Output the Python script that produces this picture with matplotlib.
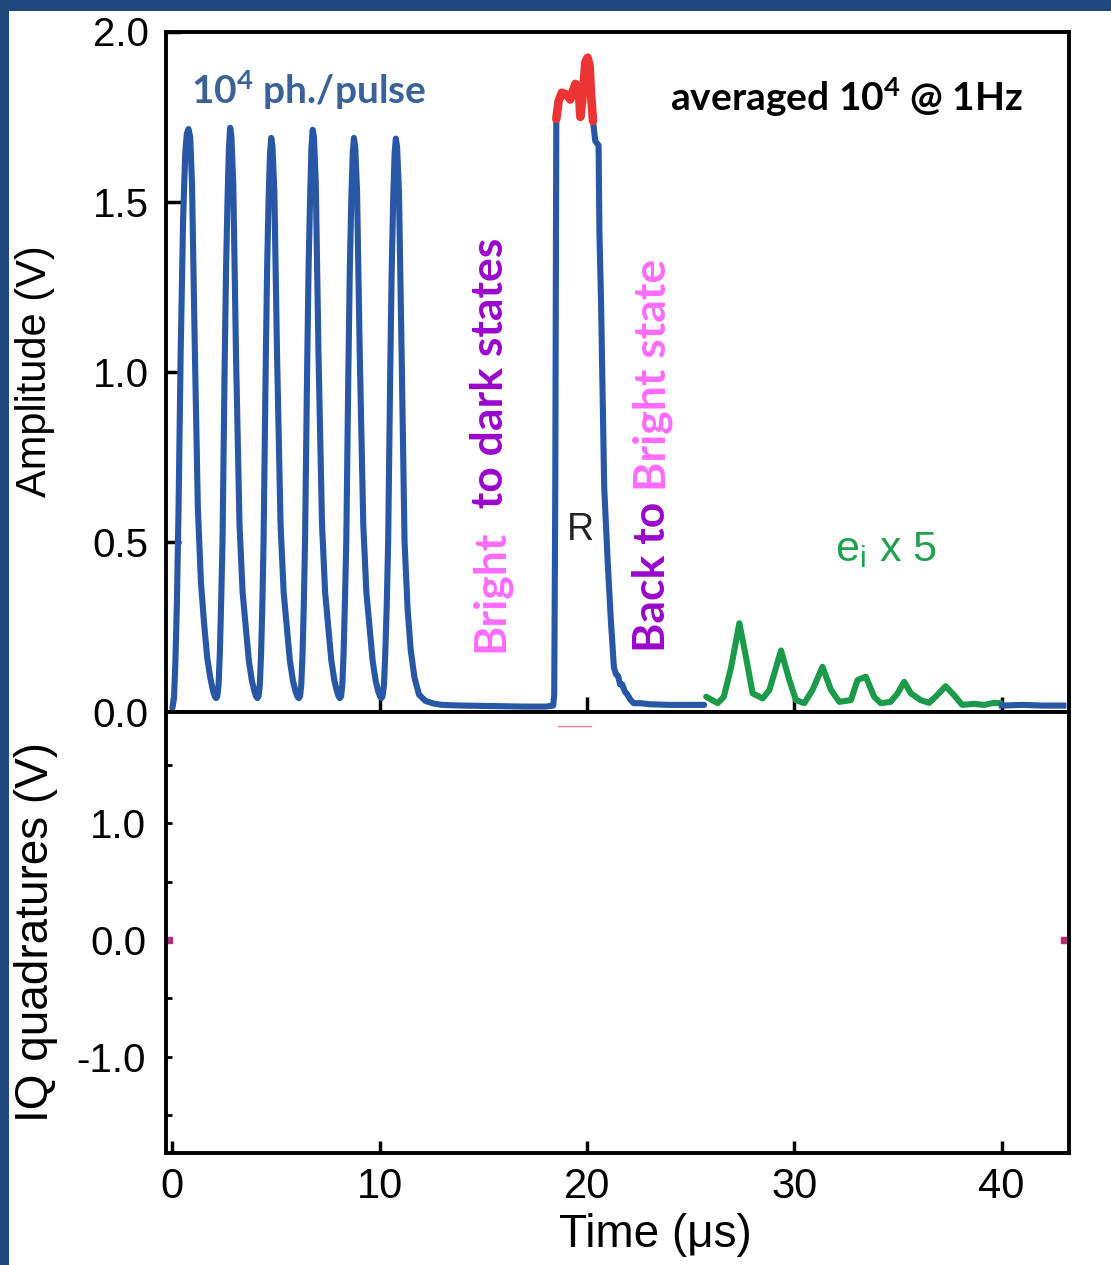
import matplotlib
matplotlib.use("Agg")
import matplotlib.pyplot as plt
from matplotlib.patches import Rectangle

plt.rcParams['font.family'] = ['Liberation Sans', 'DejaVu Sans']
plt.rcParams['mathtext.default'] = 'regular'

# ---------------- data ----------------
# blue trace: six probe pulses, dark interval, read pulse R and its fall
blue_t = [0.00, 0.08, 0.15, 0.22, 0.30, 0.40, 0.52, 0.62, 0.70, 0.78, 0.86, 0.95, 1.08, 1.23, 1.38, 1.53, 1.68, 1.83, 1.96, 2.05, 2.11,
          2.17, 2.23, 2.29, 2.35, 2.42, 2.52, 2.59, 2.66, 2.73, 2.79, 2.85, 2.94, 3.07, 3.24, 3.39, 3.54, 3.69, 3.84, 3.96, 4.04, 4.10,
          4.16, 4.22, 4.28, 4.34, 4.40, 4.50, 4.57, 4.64, 4.71, 4.77, 4.83, 4.92, 5.05, 5.22, 5.37, 5.52, 5.67, 5.82, 5.94, 6.03, 6.10,
          6.16, 6.22, 6.28, 6.34, 6.40, 6.50, 6.57, 6.64, 6.71, 6.77, 6.83, 6.92, 7.05, 7.22, 7.37, 7.52, 7.67, 7.82, 7.94, 8.02, 8.08,
          8.14, 8.20, 8.26, 8.32, 8.39, 8.49, 8.56, 8.63, 8.70, 8.76, 8.82, 8.91, 9.04, 9.21, 9.36, 9.51, 9.66, 9.81, 9.93, 10.02, 10.08,
          10.14, 10.21, 10.27, 10.34, 10.41, 10.51, 10.58, 10.65, 10.72, 10.78, 10.84, 10.93, 11.06, 11.20, 11.35, 11.50, 11.68, 11.90, 12.20, 12.60, 13.00,
          14.0, 15.0, 16.0, 17.0, 18.0, 18.37, 18.42, 18.47, 18.50, 18.52,
          18.63, 18.79, 19.03, 19.19, 19.44, 19.60, 19.68, 19.81, 19.92, 20.03, 20.13, 20.19, 20.29,
          20.40, 20.56, 20.60, 20.68, 20.83, 21.00, 21.15, 21.30, 21.40, 21.50, 21.60, 21.70, 21.82, 21.95, 22.10, 22.25,
          22.6, 23.0, 24.0, 25.0, 25.65]
blue_v = [0.01, 0.04, 0.15, 0.32, 0.60, 1.05, 1.45, 1.64, 1.70, 1.713, 1.69, 1.55, 1.08, 0.60, 0.38, 0.26, 0.16, 0.10, 0.062, 0.045, 0.04,
          0.045, 0.08, 0.17, 0.31, 0.50, 1.00, 1.30, 1.50, 1.66, 1.717, 1.69, 1.55, 1.05, 0.55, 0.35, 0.25, 0.15, 0.09, 0.06, 0.045, 0.04,
          0.045, 0.08, 0.17, 0.31, 0.50, 1.00, 1.30, 1.50, 1.64, 1.687, 1.66, 1.53, 1.05, 0.55, 0.35, 0.25, 0.15, 0.09, 0.06, 0.045, 0.04,
          0.045, 0.08, 0.17, 0.31, 0.50, 1.00, 1.30, 1.50, 1.66, 1.711, 1.69, 1.55, 1.05, 0.55, 0.35, 0.25, 0.15, 0.09, 0.06, 0.045, 0.04,
          0.045, 0.08, 0.17, 0.31, 0.50, 1.00, 1.30, 1.50, 1.64, 1.687, 1.66, 1.53, 1.05, 0.55, 0.35, 0.25, 0.15, 0.09, 0.06, 0.045, 0.04,
          0.045, 0.08, 0.17, 0.31, 0.50, 1.00, 1.30, 1.50, 1.64, 1.685, 1.66, 1.53, 1.05, 0.50, 0.30, 0.18, 0.10, 0.05, 0.032, 0.024, 0.02,
          0.018, 0.017, 0.016, 0.015, 0.015, 0.018, 0.05, 0.65, 1.35, 1.74,
          1.795, 1.82, 1.814, 1.80, 1.846, 1.833, 1.749, 1.82, 1.91, 1.923, 1.898, 1.82, 1.737,
          1.678, 1.665, 1.41, 1.20, 0.66, 0.44, 0.27, 0.13, 0.11, 0.105, 0.08, 0.08, 0.06, 0.05, 0.035, 0.025,
          0.025, 0.022, 0.02, 0.02, 0.02]

# red: top of the read pulse
red_t = [18.52, 18.63, 18.79, 19.03, 19.19, 19.44, 19.60, 19.68, 19.81, 19.92, 20.03, 20.13, 20.19, 20.29]
red_v = [1.743, 1.795, 1.82, 1.814, 1.80, 1.846, 1.833, 1.749, 1.82, 1.91, 1.923, 1.898, 1.82, 1.737]

# green: echoes e_i (x5)
green_t = [25.75, 26.30, 26.60, 26.95, 27.35, 27.67, 27.99, 28.48, 28.80, 29.36, 29.76, 30.08, 30.48, 30.88, 31.36,
           31.77, 32.17, 32.73, 33.05, 33.45, 33.85, 34.17, 34.65, 34.98, 35.30, 35.62, 36.10, 36.50, 36.90, 37.30,
           37.70, 38.10, 38.67, 39.15, 39.63, 39.95]
green_v = [0.044, 0.025, 0.044, 0.13, 0.26, 0.16, 0.054, 0.039, 0.064, 0.18, 0.093, 0.034, 0.025, 0.064, 0.132,
           0.064, 0.029, 0.034, 0.093, 0.103, 0.044, 0.025, 0.029, 0.054, 0.088, 0.054, 0.034, 0.026, 0.049, 0.075,
           0.049, 0.020, 0.023, 0.020, 0.026, 0.025]

# blue tail after the echoes
tail_t = [40.02, 41.0, 42.0, 42.98]
tail_v = [0.018, 0.02, 0.018, 0.018]

# faint marks visible in the IQ panel
iq_red_t = [18.6, 20.2]
iq_red_v = [1.83, 1.83]
iq_mag_t = [-0.15, 43.0]
iq_mag_v = [0.0, 0.0]

amp_ticks = [0.0, 0.5, 1.0, 1.5, 2.0]
amp_labels = ['0.0', '0.5', '1.0', '1.5', '2.0']
iq_ticks = [-1.0, 0.0, 1.0]
iq_labels = ['-1.0', '0.0', '1.0']
iq_minor = [-1.5, -0.5, 0.5, 1.5]
time_ticks = [0, 10, 20, 30, 40]
time_labels = ['0', '10', '20', '30', '40']

# ---------------- figure ----------------
fig = plt.figure(figsize=(11.11, 12.65), dpi=100)
fig.patch.set_facecolor('#1f497d')
fig.patches.append(Rectangle((9 / 1111, 0), 1, 1 - 11 / 1265, transform=fig.transFigure,
                             facecolor='white', edgecolor='none', zorder=-5))

L = 165.5 / 1111
W = (1069 - 165.5) / 1111
ax1 = fig.add_axes([L, 1 - 711.7 / 1265, W, (711.7 - 31.5) / 1265])
ax2 = fig.add_axes([L, 1 - 1153 / 1265, W, (1153 - 711.7) / 1265], sharex=ax1)

blue = '#2857a6'
ax1.plot(blue_t, blue_v, color=blue, lw=4.4, solid_capstyle='round', solid_joinstyle='round', zorder=3)
ax1.plot(red_t, red_v, color='#ec3434', lw=6.2, solid_capstyle='round', solid_joinstyle='round', zorder=4)
ax1.plot(green_t, green_v, color='#1b9a4a', lw=4.4, solid_capstyle='round', solid_joinstyle='round', zorder=3)
ax1.plot(tail_t, tail_v, color=blue, lw=4.4, zorder=3)

ax2.plot(iq_red_t, iq_red_v, color='#ec3434', lw=1.0, alpha=0.6)
ax2.plot(iq_mag_t, iq_mag_v, ls='none', marker='s', ms=4, color='#b0307a', clip_on=False)

ax1.set_xlim(-0.33, 43.25)
ax1.set_ylim(0, 2.0)
ax2.set_ylim(-1.825, 1.956)

for ax in (ax1, ax2):
    for s in ax.spines.values():
        s.set_linewidth(2.8)
        s.set_color('black')
    ax.set_facecolor('white')

ax1.set_yticks(amp_ticks)
ax1.set_yticklabels(amp_labels)
ax1.set_xticks(time_ticks)
ax1.tick_params(axis='x', direction='in', length=11, width=2.5, labelbottom=False)
ax1.tick_params(axis='y', direction='in', length=11, width=2.5, labelsize=29, pad=12)

ax2.set_yticks(iq_ticks)
ax2.set_yticklabels(iq_labels)
ax2.set_yticks(iq_minor, minor=True)
ax2.set_xticklabels(time_labels)
ax2.tick_params(axis='x', direction='in', length=9, width=2.5, labelsize=30, pad=10)
ax2.tick_params(axis='y', which='both', direction='in', length=4, width=2.0, labelsize=29, pad=14)

ax1.set_ylabel('Amplitude (V)', fontsize=30, va='center')
ax1.yaxis.set_label_coords(-0.1444, 0.5)
ax2.set_ylabel('IQ quadratures (V)', fontsize=33, va='center')
ax2.yaxis.set_label_coords(-0.143, 0.5)
ax2.set_xlabel('Time (μs)', fontsize=33)
ax2.xaxis.set_label_coords(0.542, -0.135)

# ---------------- annotations ----------------
bold = dict(family=['Lato', 'DejaVu Sans'], fontweight='bold')
ax1.text(0.88, 1.828, '10$^4$ ph./pulse', color='#3a6198', fontsize=28, ha='left', va='center', **bold)
ax1.text(24.02, 1.807, 'averaged 10$^4$ @ 1Hz', color='black', fontsize=28, ha='left', va='center', **bold)

pink = '#ff6bff'
purple = '#9a06cc'
t1 = ax1.text(15.34, 0.175, 'Bright', color=pink, fontsize=32, rotation=90, ha='center', va='bottom', **bold)
ax1.annotate('  to dark states', xy=(0.5, 1.0), xycoords=t1, color=purple, fontsize=32, rotation=90,
             ha='center', va='bottom', **bold)
t2 = ax1.text(23.15, 0.175, 'Back to ', color=purple, fontsize=32, rotation=90, ha='center', va='bottom', **bold)
ax1.annotate('Bright state', xy=(0.5, 1.0), xycoords=t2, color=pink, fontsize=32, rotation=90,
             ha='center', va='bottom', **bold)

ax1.text(19.68, 0.534, 'R', color='#222222', fontsize=27, ha='center', va='center')
ax1.text(31.97, 0.475, 'e$_i$ x 5', color='#22a04f', fontsize=31, ha='left', va='center')

fig.savefig('out.png', dpi=100, facecolor=fig.get_facecolor())
